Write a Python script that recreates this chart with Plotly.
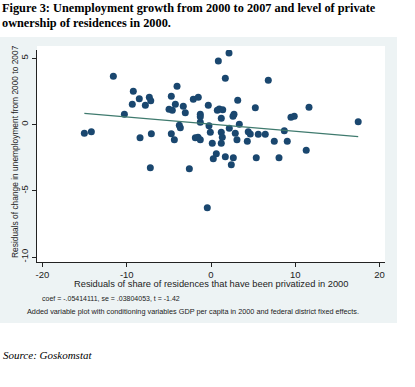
import numpy as np
import plotly.graph_objects as go

# Residuals
x_resid = [0.87, 2.14, -11.59, 1.70, -4.03, -9.22, -8.51, -7.32, -7.15, -4.71,
           -2.10, -1.51, -9.34, -7.79, -4.23, -3.29, -0.32, 3.17, -4.98, -4.59,
           -3.05, -1.27, -1.27, 0.75, 0.98, 1.39, 2.73, 2.61, -10.28, 1.22,
           -1.27, -0.24, -3.76, -3.64, 3.36, 2.17, -15.03, -14.20, -7.08, -4.71,
           -0.08, 1.22, 2.88, -8.42, -4.35, -1.86, -1.54, -1.27, 1.34, 3.08,
           0.15, 1.22, 0.63, 0.27, 1.70, 2.65, 2.41, -7.20, -2.57, -0.44,
           6.80, 5.26, 11.63, 9.49, 9.88, 17.47, 4.42, 4.66, 5.61, 6.44,
           8.70, 4.31, 7.51, 9.05, 11.30, 5.37, 8.07]
y_resid = [4.79, 5.40, 3.64, 3.49, 2.88, 2.51, 1.95, 2.05, 1.80, 2.13,
           1.90, 2.05, 1.52, 1.45, 1.52, 1.37, 1.45, 1.83, 1.15, 1.07,
           0.89, 0.77, 0.59, 1.07, 1.17, 1.12, 0.77, 0.62, 0.77, 0.47,
           0.17, -0.09, -0.06, -0.24, 0.02, -0.29, -0.66, -0.54, -0.69, -0.69,
           -0.59, -0.59, -0.66, -1.00, -1.15, -1.00, -0.97, -1.15, -0.97, -1.15,
           -1.42, -1.42, -2.20, -2.58, -2.43, -2.51, -3.03, -3.26, -3.34, -6.28,
           3.34, 1.27, 1.30, 0.54, 0.62, 0.21, -0.54, -0.72, -0.74, -0.74,
           -0.47, -1.27, -1.27, -1.27, -1.95, -2.51, -2.51]
coef = -0.05414111
se = 0.03804053
tstat = -1.42
x_ticks = [-20, -10, 0, 10, 20]
y_ticks = [-10, -5, 0, 5]

W, H = 415, 387
L, R, T, B = 37, 385, 50, 262  # plot area in pixels

def px(xpix):
    return (xpix - L) / (R - L)

def py(ypix):
    return (B - ypix) / (B - T)

xa = np.array(x_resid)
intercept = 0.03
xl = np.array([xa.min(), xa.max()])
yl = coef * xl + intercept

fig = go.Figure()
fig.add_trace(go.Scatter(x=x_resid, y=y_resid, mode="markers",
                         marker=dict(size=7, color="#1a476f"),
                         showlegend=False, hoverinfo="skip"))
fig.add_trace(go.Scatter(x=xl, y=yl, mode="lines",
                         line=dict(color="#3f7a6e", width=1.2),
                         showlegend=False, hoverinfo="skip"))

serif = "Liberation Serif"
sans = "Liberation Sans"

shapes = [
    dict(type="rect", xref="paper", yref="paper", layer="below",
         x0=px(0), x1=px(397), y0=py(323), y1=py(37),
         fillcolor="#edf3f4", line=dict(width=0)),
    dict(type="rect", xref="paper", yref="paper", layer="below",
         x0=0, x1=1, y0=0, y1=py(46),
         fillcolor="white", line=dict(width=0)),
]

annotations = [
    dict(text="<b>Figure 3: Unemployment growth from 2000 to 2007 and level of private</b>",
         x=px(0), y=py(8), xanchor="left", yanchor="middle",
         font=dict(family=serif, size=12.3, color="black")),
    dict(text="<b>ownership of residences in 2000.</b>",
         x=px(0), y=py(23), xanchor="left", yanchor="middle",
         font=dict(family=serif, size=12.3, color="black")),
    dict(text="Residuals of change in unemployment from 2000 to 2007",
         x=px(15), y=py(152), textangle=-90, xanchor="center", yanchor="middle",
         font=dict(family=sans, size=8.4, color="#222")),
    dict(text="Residuals of share of residences that have been privatized in 2000",
         x=px(211), y=py(284), xanchor="center", yanchor="middle",
         font=dict(family=sans, size=9.3, color="#222")),
    dict(text="coef = -.05414111, se = .03804053, t = -1.42",
         x=px(40), y=py(298), xanchor="left", yanchor="middle",
         font=dict(family=sans, size=7.0, color="#222")),
    dict(text="Added variable plot with conditioning variables GDP per capita in 2000 and federal district fixed effects.",
         x=px(25), y=py(311), xanchor="left", yanchor="middle",
         font=dict(family=sans, size=7.3, color="#222")),
    dict(text="<i>Source: Goskomstat</i>",
         x=px(1), y=py(355), xanchor="left", yanchor="middle",
         font=dict(family=serif, size=11, color="black")),
]
for a in annotations:
    a.update(xref="paper", yref="paper", showarrow=False)

fig.update_layout(
    width=W, height=H,
    margin=dict(l=L, r=W - R, t=T, b=H - B, pad=0),
    paper_bgcolor="white", plot_bgcolor="white",
    shapes=shapes, annotations=annotations,
    xaxis=dict(range=[-20.65, 20.65], tickvals=x_ticks,
               ticktext=[str(v) for v in x_ticks],
               showgrid=False, zeroline=False, showline=True,
               linecolor="#222", linewidth=1, ticks="outside", ticklen=4,
               tickcolor="#222", tickfont=dict(family=sans, size=9.5, color="#222")),
    yaxis=dict(range=[(124.5 - B) / 13.25, (124.5 - T) / 13.25], tickvals=y_ticks,
               ticktext=[str(v) for v in y_ticks], tickangle=-90,
               showgrid=False, zeroline=False, showline=True,
               linecolor="#222", linewidth=1, ticks="outside", ticklen=4,
               tickcolor="#222", tickfont=dict(family=sans, size=9.5, color="#222")),
)

fig.write_html("out.html", config={"displayModeBar": False},
               post_script="document.body.style.margin='0px';document.body.style.padding='0px';")
